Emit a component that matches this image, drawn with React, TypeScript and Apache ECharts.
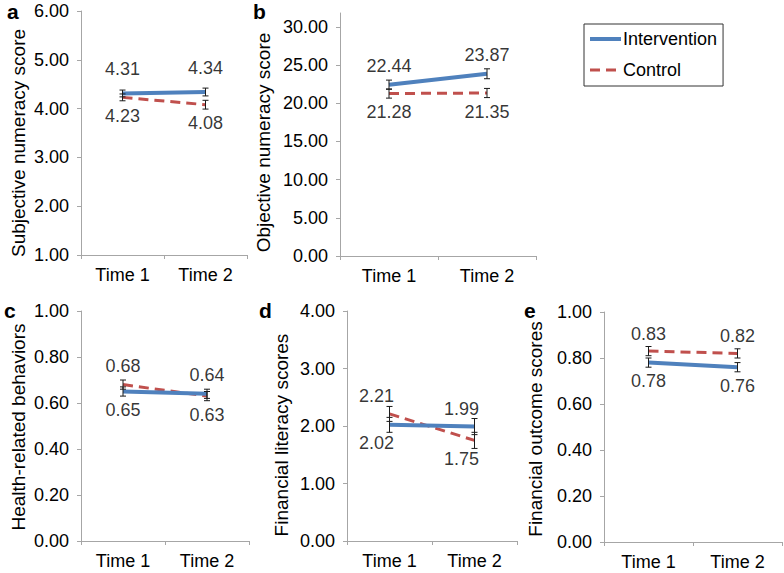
import React, { useEffect, useRef } from "react";
import * as echarts from "echarts";

const categories = ["Time 1", "Time 2"];

// Panel a – Subjective numeracy
const aIntervention = [4.31, 4.34];
const aInterventionErr = [0.07, 0.08];
const aControl = [4.23, 4.08];
const aControlErr = [0.07, 0.09];

// Panel b – Objective numeracy
const bIntervention = [22.44, 23.87];
const bInterventionErr = [0.6, 0.65];
const bControl = [21.28, 21.35];
const bControlErr = [0.6, 0.6];

// Panel c – Health-related behaviors
const cIntervention = [0.65, 0.64];
const cInterventionErr = [0.02, 0.02];
const cControl = [0.68, 0.63];
const cControlErr = [0.02, 0.02];

// Panel d – Financial literacy
const dIntervention = [2.02, 1.99];
const dInterventionErr = [0.13, 0.14];
const dControl = [2.21, 1.75];
const dControlErr = [0.13, 0.14];

// Panel e – Financial outcome
const eIntervention = [0.78, 0.76];
const eInterventionErr = [0.02, 0.02];
const eControl = [0.83, 0.82];
const eControlErr = [0.02, 0.02];

const aTicks = [1, 2, 3, 4, 5, 6];
const bTicks = [0, 5, 10, 15, 20, 25, 30];
const cTicks = [0, 0.2, 0.4, 0.6, 0.8, 1.0];
const dTicks = [0, 1, 2, 3, 4];
const eTicks = [0, 0.2, 0.4, 0.6, 0.8, 1.0];

const FONT = "'Liberation Sans', Arial, Helvetica, sans-serif";
const BLUE = "#4f81bd";
const RED = "#c0504d";
const AXIS = "#a6a6a6";

type Panel = {
  letter: string;
  name: string;
  intv: number[];
  intvErr: number[];
  ctrl: number[];
  ctrlErr: number[];
  ticks: number[];
  min: number;
  max: number;
  grid: { left: number; top: number; width: number; height: number };
  nameGap: number;
  nameShift: number;
  letterPos: [number, number];
  labelDx: number;
  upDist: number;
};

const panels: Panel[] = [
  {
    letter: "a", name: "Subjective numeracy score",
    intv: aIntervention, intvErr: aInterventionErr, ctrl: aControl, ctrlErr: aControlErr,
    ticks: aTicks, min: 1, max: 6,
    grid: { left: 81, top: 11, width: 166, height: 244 }, nameGap: 53, nameShift: 10,
    letterPos: [13, 12], labelDx: 0, upDist: 15,
  },
  {
    letter: "b", name: "Objective numeracy score",
    intv: bIntervention, intvErr: bInterventionErr, ctrl: bControl, ctrlErr: bControlErr,
    ticks: bTicks, min: 0, max: 31.83,
    grid: { left: 340, top: 13, width: 196, height: 243 }, nameGap: 67, nameShift: 8,
    letterPos: [259, 12], labelDx: 0, upDist: 9,
  },
  {
    letter: "c", name: "Health-related behaviors",
    intv: cIntervention, intvErr: cInterventionErr, ctrl: cControl, ctrlErr: cControlErr,
    ticks: cTicks, min: 0, max: 1,
    grid: { left: 81, top: 311, width: 168, height: 230 }, nameGap: 53, nameShift: 1,
    letterPos: [10, 311], labelDx: 0, upDist: 9,
  },
  {
    letter: "d", name: "Financial literacy scores",
    intv: dIntervention, intvErr: dInterventionErr, ctrl: dControl, ctrlErr: dControlErr,
    ticks: dTicks, min: 0, max: 4,
    grid: { left: 347, top: 311, width: 170, height: 230 }, nameGap: 56, nameShift: 9,
    letterPos: [265, 311], labelDx: -13, upDist: 8,
  },
  {
    letter: "e", name: "Financial outcome scores",
    intv: eIntervention, intvErr: eInterventionErr, ctrl: eControl, ctrlErr: eControlErr,
    ticks: eTicks, min: 0, max: 1,
    grid: { left: 604, top: 312, width: 178, height: 230 }, nameGap: 59, nameShift: 2,
    letterPos: [530, 311], labelDx: 0, upDist: 8,
  },
];

function errorRender(params: any, api: any) {
  const x = api.value(0);
  const lo = api.coord([x, api.value(1)]);
  const hi = api.coord([x, api.value(2)]);
  const hw = 3;
  const st = { stroke: "#1a1a1a", lineWidth: 1 };
  return {
    type: "group",
    children: [
      { type: "line", shape: { x1: lo[0], y1: lo[1], x2: hi[0], y2: hi[1] }, style: st },
      { type: "line", shape: { x1: hi[0] - hw, y1: hi[1], x2: hi[0] + hw, y2: hi[1] }, style: st },
      { type: "line", shape: { x1: lo[0] - hw, y1: lo[1], x2: lo[0] + hw, y2: lo[1] }, style: st },
    ],
  };
}

function buildOption() {
  const grid: any[] = [];
  const xAxis: any[] = [];
  const yAxis: any[] = [];
  const series: any[] = [];
  const graphic: any[] = [];

  panels.forEach((p, i) => {
    grid.push({ ...p.grid, containLabel: false });
    xAxis.push({
      type: "category",
      gridIndex: i,
      data: categories,
      boundaryGap: true,
      axisLine: { show: true, lineStyle: { color: AXIS, width: 1 } },
      axisTick: { show: true, length: 4, lineStyle: { color: AXIS } },
      axisLabel: { color: "#000", fontSize: 18, fontFamily: FONT, margin: 11 },
      splitLine: { show: false },
    });
    const shift = p.nameShift;
    yAxis.push({
      type: "value",
      gridIndex: i,
      min: p.min,
      max: p.max,
      name: p.name,
      nameLocation: "middle",
      nameGap: p.nameGap,
      nameTextStyle: {
        color: "#000", fontSize: 19, fontFamily: FONT,
        padding: shift >= 0 ? [0, 2 * shift, 0, 0] : [0, 0, 0, -2 * shift],
      },
      axisLine: { show: true, lineStyle: { color: AXIS, width: 1 } },
      axisTick: { show: true, length: 4, lineStyle: { color: AXIS }, customValues: p.ticks },
      axisLabel: {
        color: "#000", fontSize: 18, fontFamily: FONT, margin: 12,
        customValues: p.ticks,
        formatter: (v: number) => v.toFixed(2),
      },
      splitLine: { show: false },
    });

    series.push({
      type: "line",
      name: "Control",
      xAxisIndex: i,
      yAxisIndex: i,
      data: p.ctrl,
      symbol: "none",
      showSymbol: false,
      lineStyle: { color: RED, width: 3, type: [10, 6] },
      itemStyle: { color: RED },
      z: 2,
    });
    series.push({
      type: "line",
      name: "Intervention",
      xAxisIndex: i,
      yAxisIndex: i,
      data: p.intv,
      symbol: "none",
      showSymbol: false,
      lineStyle: { color: BLUE, width: 4 },
      itemStyle: { color: BLUE },
      z: 3,
    });
    series.push({
      type: "custom",
      name: "errI" + i,
      xAxisIndex: i,
      yAxisIndex: i,
      renderItem: errorRender,
      data: p.intv.map((v, k) => [k, v - p.intvErr[k], v + p.intvErr[k]]),
      z: 4,
      silent: true,
    });
    series.push({
      type: "custom",
      name: "errC" + i,
      xAxisIndex: i,
      yAxisIndex: i,
      renderItem: errorRender,
      data: p.ctrl.map((v, k) => [k, v - p.ctrlErr[k], v + p.ctrlErr[k]]),
      z: 4,
      silent: true,
    });

    // value labels: higher value of each time point above, lower below
    const labelData: any[] = [];
    const addLabels = (vals: number[], other: number[]) => {
      vals.forEach((v, k) => {
        const up = v >= other[k];
        labelData.push({
          value: [k, v],
          label: { position: up ? "top" : "bottom", distance: up ? p.upDist : 9 },
        });
      });
    };
    addLabels(p.intv, p.ctrl);
    addLabels(p.ctrl, p.intv);
    series.push({
      type: "scatter",
      name: "labels" + i,
      xAxisIndex: i,
      yAxisIndex: i,
      data: labelData,
      symbol: "rect",
      symbolSize: 1,
      itemStyle: { color: "rgba(0,0,0,0)" },
      silent: true,
      z: 5,
      label: {
        show: true,
        color: "#000",
        fontSize: 18,
        fontFamily: FONT,
        offset: [p.labelDx, 0],
        formatter: (d: any) => Number(d.value[1]).toFixed(2),
      },
    });

    graphic.push({
      type: "text",
      left: p.letterPos[0] - 6,
      top: p.letterPos[1] - 11,
      style: { text: p.letter, fill: "#000", font: `bold 21px ${FONT}` },
    });
  });

  return {
    animation: false,
    backgroundColor: "#fff",
    textStyle: { fontFamily: FONT },
    grid,
    xAxis,
    yAxis,
    series,
    graphic,
    legend: {
      data: [
        { name: "Intervention", lineStyle: { width: 4 } },
        { name: "Control", lineStyle: { width: 3 } },
      ],
      orient: "vertical",
      left: 584,
      top: 24,
      width: 138,
      itemWidth: 31,
      itemHeight: 14,
      itemGap: 11,
      padding: [5, 6, 6, 4],
      borderColor: "#333",
      borderWidth: 1,
      borderRadius: 0,
      itemStyle: { opacity: 0 },
      textStyle: { color: "#000", fontSize: 18, fontFamily: FONT, lineHeight: 20, padding: [0, 0, 0, -3] },
      selectedMode: false,
    },
  };
}

export default function App() {
  const ref = useRef<HTMLDivElement>(null);
  useEffect(() => {
    if (!ref.current) return;
    const chart = echarts.init(ref.current, undefined, { renderer: "svg" });
    chart.setOption(buildOption() as any);
    return () => chart.dispose();
  }, []);
  return (
    <div
      ref={ref}
      style={{ position: "fixed", left: 0, top: 0, width: 784, height: 573, background: "#fff" }}
    />
  );
}
